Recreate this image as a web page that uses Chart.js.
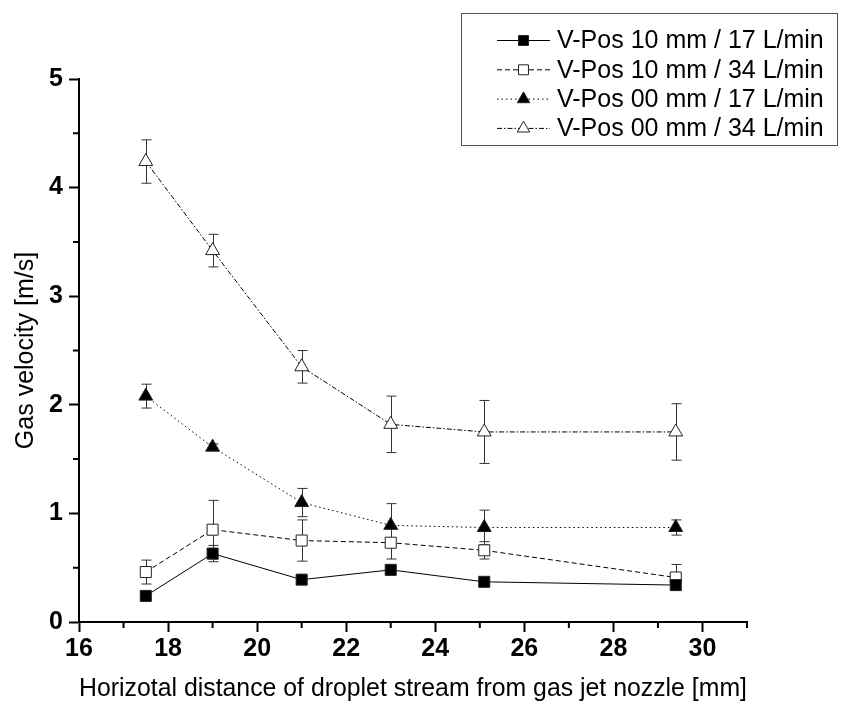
<!DOCTYPE html>
<html>
<head>
<meta charset="utf-8">
<script src="https://cdn.jsdelivr.net/npm/chart.js@4.4.0/dist/chart.umd.min.js"></script>
<style>
  html, body { margin: 0; padding: 0; background: #fff; }
  canvas { display: block; }
</style>
</head>
<body>
<canvas id="gasChart" width="841" height="704"></canvas>
<script>
// Horizontal distance [mm] of each measuring point
const distances = [17.5, 19, 21, 23, 25.1, 29.4];

const seriesNames = [
  'V-Pos 10 mm / 17 L/min',
  'V-Pos 10 mm / 34 L/min',
  'V-Pos 00 mm / 17 L/min',
  'V-Pos 00 mm / 34 L/min'
];

// Gas velocity [m/s] and error half-widths
const vPos10Flow17 = [0.24, 0.63, 0.39, 0.48, 0.37, 0.34];
const vPos10Flow17Err = [0.03, 0.075, 0.03, 0.03, 0.04, 0.03];
const vPos10Flow34 = [0.46, 0.85, 0.75, 0.73, 0.66, 0.41];
const vPos10Flow34Err = [0.11, 0.27, 0.19, 0.15, 0.08, 0.12];
const vPos00Flow17 = [2.08, 1.61, 1.10, 0.89, 0.87, 0.87];
const vPos00Flow17Err = [0.11, 0.03, 0.13, 0.20, 0.16, 0.07];
const vPos00Flow34 = [4.24, 3.42, 2.35, 1.82, 1.75, 1.75];
const vPos00Flow34Err = [0.20, 0.15, 0.15, 0.26, 0.29, 0.26];

const xTickLabels = [16, 18, 20, 22, 24, 26, 28, 30];
const yTickLabels = [0, 1, 2, 3, 4, 5];

const seriesValues = [vPos10Flow17, vPos10Flow34, vPos00Flow17, vPos00Flow34];
const seriesErrors = [vPos10Flow17Err, vPos10Flow34Err, vPos00Flow17Err, vPos00Flow34Err];

// Look of each series (marker + line pattern)
const seriesStyles = [
  { shape: 'rect', fill: '#000', radius: 7.8, dash: [] },
  { shape: 'rect', fill: '#fff', radius: 7.8, dash: [5, 3] },
  { shape: 'triangle', fill: '#000', radius: 8, dash: [1.5, 3] },
  { shape: 'triangle', fill: '#fff', radius: 8, dash: [5, 2, 1.5, 2] }
];

const FONT = "'Liberation Sans', Arial, sans-serif";

const datasets = seriesValues.map((vals, i) => {
  const st = seriesStyles[i];
  return {
    label: seriesNames[i],
    data: vals.map((v, k) => ({ x: distances[k], y: v })),
    errors: seriesErrors[i],
    borderColor: '#000',
    borderWidth: 1,
    borderDash: st.dash,
    pointStyle: st.shape,
    pointRadius: st.radius,
    pointHoverRadius: st.radius,
    pointBackgroundColor: st.fill,
    pointBorderColor: '#222',
    pointBorderWidth: 1,
    fill: false,
    tension: 0
  };
});

// error bars go under the markers
const errorBars = {
  id: 'errorBars',
  beforeDatasetsDraw(chart) {
    const { ctx, scales } = chart;
    ctx.save();
    ctx.strokeStyle = '#333';
    ctx.lineWidth = 1;
    ctx.setLineDash([]);
    chart.data.datasets.forEach(ds => {
      ds.data.forEach((p, k) => {
        const e = ds.errors[k];
        const x = Math.round(scales.x.getPixelForValue(p.x)) + 0.5;
        const yTop = scales.y.getPixelForValue(p.y + e);
        const yBot = scales.y.getPixelForValue(p.y - e);
        ctx.beginPath();
        ctx.moveTo(x, yTop); ctx.lineTo(x, yBot);
        ctx.moveTo(x - 5, yTop); ctx.lineTo(x + 5, yTop);
        ctx.moveTo(x - 5, yBot); ctx.lineTo(x + 5, yBot);
        ctx.stroke();
      });
    });
    ctx.restore();
  }
};

// short unlabeled ticks between the labeled ones
const minorTicks = {
  id: 'minorTicks',
  afterDraw(chart) {
    const { ctx, scales, chartArea } = chart;
    ctx.save();
    ctx.strokeStyle = '#000';
    ctx.lineWidth = 2;
    ctx.beginPath();
    for (let v = 17; v <= 31; v += 2) {
      const x = scales.x.getPixelForValue(v);
      ctx.moveTo(x, chartArea.bottom); ctx.lineTo(x, chartArea.bottom + 6);
    }
    for (let v = 0.5; v < 5; v += 1) {
      const y = scales.y.getPixelForValue(v);
      ctx.moveTo(chartArea.left, y); ctx.lineTo(chartArea.left - 6, y);
    }
    ctx.stroke();
    ctx.restore();
  }
};

function drawMarker(ctx, st, x, y) {
  ctx.beginPath();
  if (st.shape === 'rect') {
    const s = st.radius * Math.SQRT1_2;
    ctx.rect(x - s, y - s, 2 * s, 2 * s);
  } else {
    const r = st.radius;
    ctx.moveTo(x, y - r);
    ctx.lineTo(x + r * Math.sin(2 * Math.PI / 3), y + r / 2);
    ctx.lineTo(x - r * Math.sin(2 * Math.PI / 3), y + r / 2);
    ctx.closePath();
  }
  ctx.fillStyle = st.fill;
  ctx.fill();
  ctx.strokeStyle = '#222';
  ctx.lineWidth = 1;
  ctx.stroke();
}

const boxLegend = {
  id: 'boxLegend',
  afterDraw(chart) {
    const ctx = chart.ctx;
    ctx.save();
    ctx.fillStyle = '#fff';
    ctx.fillRect(461.5, 13.5, 376, 132);
    ctx.strokeStyle = '#555';
    ctx.lineWidth = 1;
    ctx.strokeRect(461.5, 13.5, 376, 132);
    ctx.font = '25px ' + FONT;
    ctx.textBaseline = 'middle';
    seriesNames.forEach((name, i) => {
      const y = 40.5 + i * 29.3;
      const st = seriesStyles[i];
      ctx.strokeStyle = '#000';
      ctx.lineWidth = 1;
      ctx.setLineDash(st.dash);
      ctx.beginPath();
      ctx.moveTo(497, y); ctx.lineTo(550, y);
      ctx.stroke();
      ctx.setLineDash([]);
      drawMarker(ctx, { ...st, radius: st.radius * 0.9 }, 523.5, y);
      ctx.fillStyle = '#000';
      ctx.fillText(name, 557, y + 1);
    });
    ctx.restore();
  }
};

new Chart(document.getElementById('gasChart').getContext('2d'), {
  type: 'line',
  data: { datasets },
  plugins: [errorBars, minorTicks, boxLegend],
  options: {
    responsive: false,
    animation: false,
    layout: { padding: { left: 0, right: 94, top: 79, bottom: 0 } },
    plugins: {
      legend: { display: false },
      tooltip: { enabled: false }
    },
    scales: {
      x: {
        type: 'linear',
        min: 16,
        max: 31,
        afterFit: s => { s.height = 82; },
        ticks: {
          stepSize: 1,
          autoSkip: false,
          maxRotation: 0,
          padding: 2,
          color: '#000',
          font: { family: FONT, size: 25, weight: 'bold' },
          callback: v => xTickLabels.includes(v) ? String(v) : ''
        },
        grid: {
          drawOnChartArea: false,
          tickLength: 10,
          tickWidth: 2,
          tickColor: c => xTickLabels.includes(c.tick && c.tick.value) ? '#000' : 'rgba(0,0,0,0)'
        },
        border: { color: '#000', width: 2 },
        title: {
          display: true,
          text: 'Horizotal distance of droplet stream from gas jet nozzle [mm]',
          color: '#000',
          font: { family: FONT, size: 25 },
          padding: { top: 0, bottom: 0 }
        }
      },
      y: {
        min: 0,
        max: 5,
        afterFit: s => { s.width = 79; },
        ticks: {
          stepSize: 0.5,
          autoSkip: false,
          padding: 6,
          color: '#000',
          font: { family: FONT, size: 25, weight: 'bold' },
          callback: v => yTickLabels.includes(v) ? String(v) : ''
        },
        grid: {
          drawOnChartArea: false,
          tickLength: 10,
          tickWidth: 2,
          tickColor: c => yTickLabels.includes(c.tick && c.tick.value) ? '#000' : 'rgba(0,0,0,0)'
        },
        border: { color: '#000', width: 2 },
        title: {
          display: true,
          text: 'Gas velocity [m/s]',
          color: '#000',
          font: { family: FONT, size: 25 },
          padding: { top: 11, bottom: 0 }
        }
      }
    }
  }
});
</script>
</body>
</html>
